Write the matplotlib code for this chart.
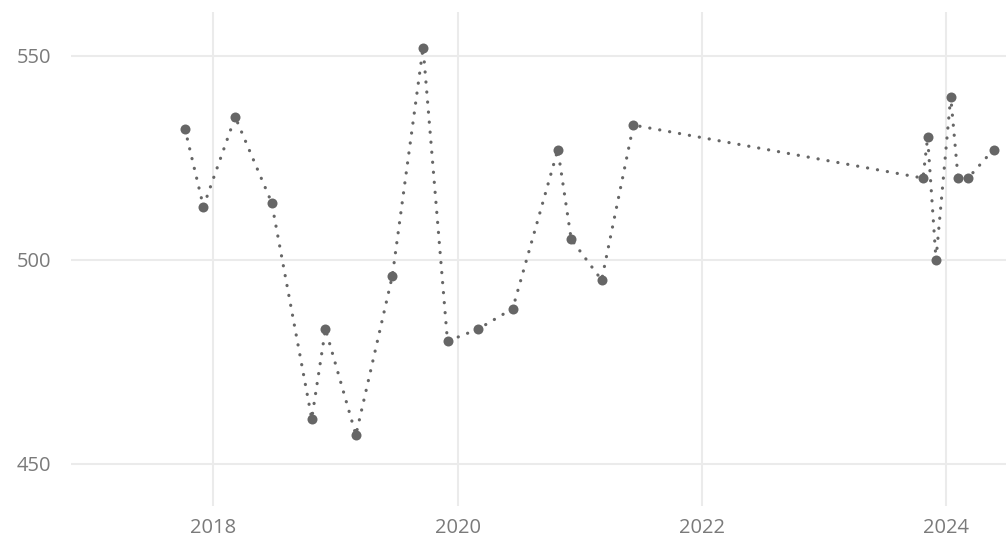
import matplotlib
matplotlib.use("Agg")
import matplotlib.pyplot as plt
import matplotlib.dates as mdates
import pandas as pd

dates = ["2017-10-08", "2017-12-02", "2018-03-07", "2018-06-24", "2018-10-22",
         "2018-12-02", "2019-03-03", "2019-06-20", "2019-09-20", "2019-12-02",
         "2020-03-03", "2020-06-14", "2020-10-27", "2020-12-06", "2021-03-07",
         "2021-06-10", "2023-10-24", "2023-11-07", "2023-12-02", "2024-01-15",
         "2024-02-06", "2024-03-07", "2024-05-22"]
values = [532, 513, 535, 514, 461, 483, 457, 496, 552, 480, 483, 488, 527,
          505, 495, 533, 520, 530, 500, 540, 520, 520, 527]

x = pd.to_datetime(dates)
color = "#666666"

plt.rcParams['font.family'] = ['Open Sans', 'DejaVu Sans']
fig = plt.figure(figsize=(10.06, 5.39), dpi=100)
ax = fig.add_axes([70.6 / 1006, 1 - 506 / 539, (1006 - 70.6) / 1006, (506 - 11.7) / 539])

ax.plot(x, values, linestyle=(0, (0.05, 3.1)), dash_capstyle='round', color=color,
        linewidth=2.3, marker='o', markersize=7.2, markeredgewidth=0, zorder=3)

def dec(y):
    return pd.Timestamp(int(y), 1, 1) + (pd.Timestamp(int(y) + 1, 1, 1) - pd.Timestamp(int(y), 1, 1)) * (y - int(y))

ax.set_xlim(dec(2016.83), dec(2024.49))
ax.set_ylim(439.6, 560.8)
ax.xaxis.set_major_locator(mdates.YearLocator(2))
ax.xaxis.set_major_formatter(mdates.DateFormatter('%Y'))
ax.set_yticks([450, 500, 550])

for s in ax.spines.values():
    s.set_visible(False)
ax.grid(True, color="#ebebeb", linewidth=1.5)
ax.set_axisbelow(True)
ax.tick_params(length=0, labelsize=14.5, colors="#7a7a7a")
ax.tick_params(axis='x', pad=8.5)
ax.tick_params(axis='y', pad=14)
fig.savefig("out.png", dpi=100, facecolor="white")
